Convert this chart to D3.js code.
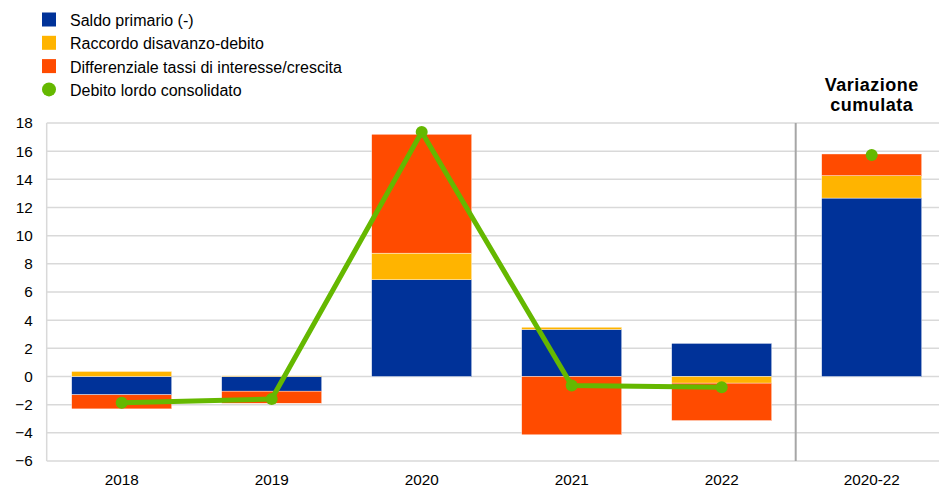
<!DOCTYPE html>
<html>
<head>
<meta charset="utf-8">
<script src="https://cdn.jsdelivr.net/npm/d3@7/dist/d3.min.js"></script>
<style>
  body { margin: 0; background: #fff; }
  text { font-family: "Liberation Sans", Arial, sans-serif; fill: #000; }
</style>
</head>
<body>
<svg id="chart" width="939" height="490"></svg>
<script>
// Categories and components (percentage points of GDP)
const categories = ["2018", "2019", "2020", "2021", "2022", "2020-22"];
const saldoPrimario = [-1.3, -1.04, 6.87, 3.34, 2.35, 12.67];
const raccordo = [0.36, 0.05, 1.89, 0.16, -0.47, 1.59];
const differenziale = [-1.0, -0.86, 8.44, -4.14, -2.66, 1.54];
const debitoLordo = [-1.87, -1.6, 17.36, -0.64, -0.76, 15.73];
const yTicks = [-6, -4, -2, 0, 2, 4, 6, 8, 10, 12, 14, 16, 18];

const seriesNames = ["Saldo primario (-)", "Raccordo disavanzo-debito", "Differenziale tassi di interesse/crescita"];
const seriesColors = ["#003299", "#ffb400", "#ff4b00"];
const lineColor = "#65b800";
const lineName = "Debito lordo consolidato";

const svg = d3.select("#chart");
const plotLeft = 46.7, plotRight = 946.7, plotTop = 123, plotBottom = 461;
const tickFont = 15.3;

const x = d3.scaleBand().domain(categories).range([plotLeft, plotRight]).paddingInner(1/3).paddingOuter(1/6);
const y = d3.scaleLinear().domain([-6, 18]).range([plotBottom, plotTop]);

// Grid
svg.append("g").selectAll("line").data(yTicks).join("line")
  .attr("x1", plotLeft).attr("x2", 939)
  .attr("y1", d => y(d)).attr("y2", d => y(d))
  .attr("stroke", "#d9d9d9").attr("stroke-width", 1.5);
svg.append("line")
  .attr("x1", plotLeft).attr("x2", plotLeft).attr("y1", y(18)).attr("y2", y(-6))
  .attr("stroke", "#d9d9d9").attr("stroke-width", 1.5);

// Y axis labels
const yAxis = svg.append("g").attr("transform", `translate(${plotLeft - 14},0)`)
  .call(d3.axisLeft(y).tickValues(yTicks).tickSize(0).tickPadding(0));
yAxis.select(".domain").remove();
yAxis.selectAll("text").attr("font-size", tickFont).attr("font-family", "Liberation Sans, Arial, sans-serif").attr("fill", "#000");

// X axis labels
const xAxis = svg.append("g").attr("transform", `translate(0,${plotBottom + 13})`)
  .call(d3.axisBottom(x).tickSize(0).tickPadding(0));
xAxis.select(".domain").remove();
xAxis.selectAll("text").attr("font-size", tickFont).attr("font-family", "Liberation Sans, Arial, sans-serif").attr("fill", "#000");

// Stacked bars (diverging)
const rows = categories.map((c, i) => ({ cat: c, s0: saldoPrimario[i], s1: raccordo[i], s2: differenziale[i] }));
const stack = d3.stack().keys(["s0", "s1", "s2"]).offset(d3.stackOffsetDiverging);
const stacked = stack(rows);
svg.append("g").selectAll("g").data(stacked).join("g")
  .attr("fill", (d, i) => seriesColors[i])
  .selectAll("rect").data(d => d).join("rect")
  .attr("x", d => x(d.data.cat))
  .attr("width", x.bandwidth())
  .attr("y", d => y(Math.max(d[0], d[1])))
  .attr("height", d => Math.abs(y(d[0]) - y(d[1])))
  .attr("stroke", "#fff").attr("stroke-width", 0.4);

// Separator before cumulative column
const sepX = x("2020-22") - x.step() * x.paddingInner() / 2 - 1;
svg.append("line")
  .attr("x1", sepX).attr("x2", sepX).attr("y1", y(18)).attr("y2", y(-6))
  .attr("stroke", "#a6a6a6").attr("stroke-width", 2);

// Debt line across annual columns
const cx = c => x(c) + x.bandwidth() / 2;
const annual = categories.slice(0, 5).map((c, i) => ({ c, v: debitoLordo[i] }));
svg.append("path").datum(annual)
  .attr("fill", "none").attr("stroke", lineColor).attr("stroke-width", 5)
  .attr("d", d3.line().x(d => cx(d.c)).y(d => y(d.v)));
svg.append("g").selectAll("circle").data(categories.map((c, i) => ({ c, v: debitoLordo[i] }))).join("circle")
  .attr("cx", d => cx(d.c)).attr("cy", d => y(d.v)).attr("r", 6).attr("fill", lineColor);

// Cumulative title
const title = svg.append("text").attr("x", cx("2020-22")).attr("y", 91)
  .attr("text-anchor", "middle").attr("font-size", 18).attr("font-weight", "bold")
  .attr("letter-spacing", 0.5);
title.append("tspan").attr("x", cx("2020-22")).attr("dy", 0).text("Variazione");
title.append("tspan").attr("x", cx("2020-22")).attr("dy", 19.5).text("cumulata");

// Legend
const legend = svg.append("g");
const legendRows = seriesNames.map((n, i) => ({ n, color: seriesColors[i], type: "rect" }))
  .concat([{ n: lineName, color: lineColor, type: "circle" }]);
legendRows.forEach((d, i) => {
  const cy = 19.5 + i * 23.3;
  if (d.type === "rect") {
    legend.append("rect").attr("x", 42).attr("y", cy - 7).attr("width", 14).attr("height", 14).attr("fill", d.color);
  } else {
    legend.append("circle").attr("cx", 49).attr("cy", cy).attr("r", 7).attr("fill", d.color);
  }
  legend.append("text").attr("x", 70).attr("y", cy + 6.5).attr("font-size", 16).text(d.n);
});
</script>
</body>
</html>
